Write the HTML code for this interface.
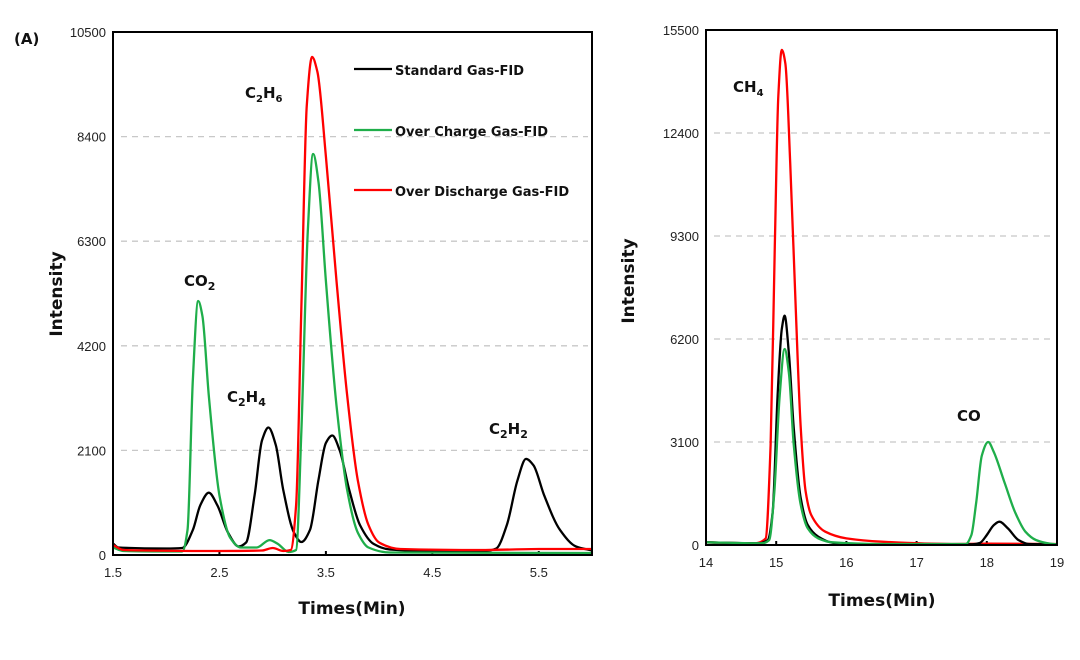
<!DOCTYPE html>
<html><head><meta charset="utf-8"><style>
body{margin:0;background:#fff;}
svg{display:block;font-family:"Liberation Sans",sans-serif;}
.tick{font-size:13px;fill:#222;}
.lbl{font-size:17px;font-weight:bold;fill:#111;font-family:"DejaVu Sans","Liberation Sans",sans-serif;}
.leg{font-size:13px;font-weight:bold;fill:#111;font-family:"DejaVu Sans","Liberation Sans",sans-serif;}
.ann{font-size:15px;font-weight:bold;fill:#111;font-family:"DejaVu Sans","Liberation Sans",sans-serif;}
</style></head><body>
<svg id="chart" width="1080" height="660">
<text x="14" y="44" class="ann">(A)</text>
<g id="left"></g>
<g id="right"></g>
</svg>
<script>
// Left panel data
const leftXTicks = [1.5, 2.5, 3.5, 4.5, 5.5];
const leftYTicks = [0, 2100, 4200, 6300, 8400, 10500];
const leftBlackT = [1.5,1.55,2.0,2.15,2.25,2.32,2.4,2.48,2.58,2.68,2.75,2.83,2.9,2.96,3.03,3.1,3.2,3.27,3.35,3.43,3.5,3.56,3.63,3.72,3.82,3.95,4.1,4.5,5.0,5.1,5.2,5.3,5.38,5.45,5.55,5.7,5.85,6.0];
const leftBlackV = [230,150,130,140,500,1000,1250,1000,450,170,250,1200,2300,2560,2200,1300,450,260,500,1500,2250,2400,2100,1300,600,220,110,80,80,130,600,1500,1930,1800,1200,500,170,90];
const leftGreenT = [1.5,1.6,2.15,2.2,2.25,2.3,2.34,2.4,2.5,2.6,2.7,2.85,2.97,3.05,3.15,3.22,3.27,3.33,3.38,3.43,3.5,3.6,3.7,3.8,3.9,4.1,6.0];
const leftGreenV = [150,80,70,500,3500,5100,4800,3200,1200,350,150,150,300,220,60,100,2500,6500,8050,7500,5500,3000,1300,450,150,50,40];
const leftRedT = [1.5,1.6,2.5,2.9,3.0,3.1,3.17,3.22,3.27,3.32,3.37,3.42,3.5,3.6,3.7,3.8,3.9,4.0,4.2,5.0,5.5,6.0];
const leftRedV = [200,100,80,90,140,80,100,1000,5000,9000,10000,9700,8000,5500,3200,1500,600,250,120,100,120,120];
// Right panel data
const rightXTicks = [14, 15, 16, 17, 18, 19];
const rightYTicks = [0, 3100, 6200, 9300, 12400, 15500];
const rightRedT = [14,14.7,14.85,14.92,14.98,15.03,15.08,15.13,15.2,15.28,15.35,15.42,15.5,15.7,16,16.5,17.5,18.0,19];
const rightRedV = [80,50,200,3000,9000,13500,14900,14500,11500,7000,3500,1600,900,400,200,100,30,40,30];
const rightBlackT = [14,14.75,14.88,14.95,15.02,15.08,15.12,15.18,15.25,15.35,15.45,15.6,15.8,16.2,17.8,17.9,18.0,18.1,18.18,18.3,18.45,18.6,19];
const rightBlackV = [80,50,150,1000,4500,6500,6900,5800,3500,1400,600,250,70,20,20,60,300,600,700,500,150,30,20];
const rightGreenT = [14,14.8,14.9,14.97,15.05,15.12,15.18,15.25,15.35,15.45,15.6,15.8,16.5,17.7,17.78,17.85,17.93,18.02,18.1,18.25,18.4,18.55,18.7,18.9,19];
const rightGreenV = [80,50,150,1500,4500,5900,5200,3000,1200,500,200,80,30,30,300,1300,2700,3100,2800,1900,1000,400,150,40,20];

const NS = "http://www.w3.org/2000/svg";
function mk(parent, tag, attrs){const e=document.createElementNS(NS,tag);for(const k in attrs)e.setAttribute(k,attrs[k]);parent.appendChild(e);return e;}
// monotone cubic (Fritsch-Carlson) -> no overshoot
function smooth(p){
  const n=p.length, dx=[], s=[], m=[];
  for(let i=0;i<n-1;i++){dx[i]=p[i+1][0]-p[i][0];s[i]=(p[i+1][1]-p[i][1])/dx[i];}
  m[0]=s[0];m[n-1]=s[n-2];
  for(let i=1;i<n-1;i++){
    if(s[i-1]*s[i]<=0)m[i]=0;
    else{const w1=2*dx[i]+dx[i-1],w2=dx[i]+2*dx[i-1];m[i]=(w1+w2)/(w1/s[i-1]+w2/s[i]);}
  }
  let d="M"+p[0][0].toFixed(1)+","+p[0][1].toFixed(1);
  for(let i=0;i<n-1;i++){
    const h=dx[i]/3;
    d+=" C"+(p[i][0]+h).toFixed(1)+","+(p[i][1]+m[i]*h).toFixed(1)+" "+(p[i+1][0]-h).toFixed(1)+","+(p[i+1][1]-m[i+1]*h).toFixed(1)+" "+p[i+1][0].toFixed(1)+","+p[i+1][1].toFixed(1);
  }
  return d;
}
function panel(g, cfg){
  const {x0,x1,y0,y1,tmin,tmax,vmax,xt,yt,series}=cfg;
  const X=t=>x0+(t-tmin)/(tmax-tmin)*(x1-x0);
  const Y=v=>y1-v/vmax*(y1-y0);
  yt.forEach(v=>{
    if(v>0&&v<vmax){
      const gl=mk(g,"line",{x1:x0+8,x2:x1-4,y1:Y(v),y2:Y(v),stroke:"#c8c8c8","stroke-width":1.3,"stroke-dasharray":"6,5"});
      
      
    }
    const t=mk(g,"text",{x:x0-7,y:Y(v)+5,"text-anchor":"end",class:"tick"});t.textContent=v;
    
    
  });
  xt.forEach(v=>{
    const t=mk(g,"text",{x:X(v),y:y1+22,"text-anchor":"middle",class:"tick"});t.textContent=v;
    
    
    const tk=mk(g,"line",{x1:X(v),x2:X(v),y1:y1,y2:y1-4,stroke:"#000","stroke-width":2});
    
    
  });
  series.forEach(s=>{
    const pts=s.t.map((t,i)=>[X(t),Y(s.v[i])]);
    const p=mk(g,"path",{d:smooth(pts),fill:"none",stroke:s.c,"stroke-width":2.3,"stroke-linejoin":"round"});
    
    
  });
  const r=mk(g,"rect",{x:x0,y:y0,width:x1-x0,height:y1-y0,fill:"none",stroke:"#000","stroke-width":2});
  
  
}
const L=document.getElementById("left"), R=document.getElementById("right");
panel(L,{x0:113,x1:592,y0:32,y1:555,tmin:1.5,tmax:6.0,vmax:10500,xt:leftXTicks,yt:leftYTicks,series:[
 {t:leftBlackT,v:leftBlackV,c:"#000",name:"standard-gas-line"},
 {t:leftGreenT,v:leftGreenV,c:"#1fae4a",name:"over-charge-line"},
 {t:leftRedT,v:leftRedV,c:"#ff0000",name:"over-discharge-line"}]});
panel(R,{x0:706,x1:1057,y0:30,y1:545,tmin:14,tmax:19,vmax:15500,xt:rightXTicks,yt:rightYTicks,series:[
 {t:rightRedT,v:rightRedV,c:"#ff0000",name:"over-discharge-line"},
 {t:rightBlackT,v:rightBlackV,c:"#000",name:"standard-gas-line"},
 {t:rightGreenT,v:rightGreenV,c:"#1fae4a",name:"over-charge-line"}]});
</script>
<svg style="position:absolute;left:0;top:0" width="1080" height="660">
<g>
<line x1="354" y1="69" x2="392" y2="69" stroke="#000" stroke-width="2.3"/>
<text x="395" y="75" class="leg">Standard Gas-FID</text>
<line x1="354" y1="130" x2="392" y2="130" stroke="#1fae4a" stroke-width="2.3"/>
<text x="395" y="136" class="leg">Over Charge Gas-FID</text>
<line x1="354" y1="190" x2="392" y2="190" stroke="#ff0000" stroke-width="2.3"/>
<text x="395" y="196" class="leg">Over Discharge Gas-FID</text>
</g>
<text x="245" y="98" class="ann">C<tspan font-size="10" dy="4">2</tspan><tspan dy="-4">H</tspan><tspan font-size="10" dy="4">6</tspan></text>
<text x="184" y="286" class="ann">CO<tspan font-size="11" dy="4">2</tspan></text>
<text x="227" y="402" class="ann">C<tspan font-size="11" dy="4">2</tspan><tspan dy="-4">H</tspan><tspan font-size="11" dy="4">4</tspan></text>
<text x="489" y="434" class="ann">C<tspan font-size="11" dy="4">2</tspan><tspan dy="-4">H</tspan><tspan font-size="11" dy="4">2</tspan></text>
<text x="733" y="92" class="ann">CH<tspan font-size="10" dy="4">4</tspan></text>
<text x="957" y="421" class="ann">CO</text>
<text x="352" y="614" text-anchor="middle" class="lbl">Times(Min)</text>
<text x="882" y="606" text-anchor="middle" class="lbl">Times(Min)</text>
<text transform="translate(62,294) rotate(-90)" text-anchor="middle" class="lbl">Intensity</text>
<text transform="translate(634,281) rotate(-90)" text-anchor="middle" class="lbl">Intensity</text>
</svg>
</body></html>
